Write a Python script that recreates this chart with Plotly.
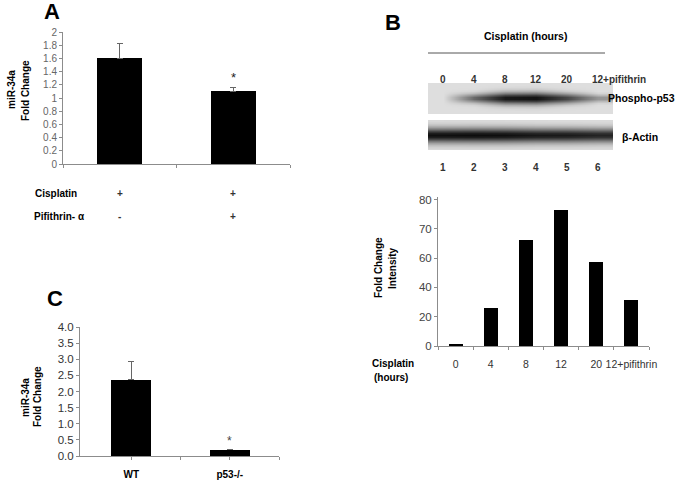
import math
import plotly.graph_objects as go

W, H = 685, 489

# ---------------- data ----------------
# Panel A
a_categories = ["Cisplatin", "Cisplatin + Pifithrin-α"]
a_values = [1.60, 1.10]
a_errors = [0.22, 0.06]
a_cisplatin = ["+", "+"]
a_pifithrin = ["-", "+"]
a_yticks = [0, 0.2, 0.4, 0.6, 0.8, 1, 1.2, 1.4, 1.6, 1.8, 2]

# Panel C
c_categories = ["WT", "p53-/-"]
c_values = [2.36, 0.20]
c_errors = [0.56, 0.0]
c_yticks = [0, 0.5, 1, 1.5, 2, 2.5, 3, 3.5, 4]
c_yticktext = ["0.0", "0.5", "1.0", "1.5", "2.0", "2.5", "3.0", "3.5", "4.0"]

# Panel B (blot densitometry)
b_categories = ["0", "4", "8", "12", "20", "12+pifithrin"]
b_values = [1.3, 26, 72.8, 93.3, 57.6, 31.3]           # on the drawn axis grid
b_yticks = [0, 20, 40, 60, 80, 100]
b_yticktext = ["0", "20", "40", "60", "70", "80"]       # labels as printed

# Panel B (western blot lanes)
lanes = [1, 2, 3, 4, 5, 6]
lane_labels = ["0", "4", "8", "12", "20", "12+pifithrin"]
phospho_intensity = [0.0, 0.6, 0.95, 0.98, 0.75, 0.38]
actin_intensity = [0.97, 0.98, 0.97, 0.93, 0.92, 0.88]


def dx(a, b):
    return [a / W, b / W]


def dy(top, bottom):
    return [1 - bottom / H, 1 - top / H]


def px(x):
    return x / W


def py(y):
    return 1 - y / H


FONT = "Liberation Sans, Arial, sans-serif"
AX = "#8c8c8c"

fig = go.Figure()

# Panel A bars
fig.add_trace(go.Bar(
    x=a_categories, y=a_values, width=0.4,
    marker=dict(color="black", line=dict(width=0)),
    error_y=dict(type="data", array=a_errors, arrayminus=[0] * len(a_errors),
                 symmetric=False, color="#666", thickness=1, width=3),
    xaxis="x", yaxis="y", showlegend=False))

# Panel C bars
fig.add_trace(go.Bar(
    x=[0, 1], y=c_values, width=0.41,
    marker=dict(color="black", line=dict(width=0)),
    error_y=dict(type="data", array=c_errors, arrayminus=[0] * len(c_errors),
                 symmetric=False, color="#666", thickness=1, width=3),
    xaxis="x2", yaxis="y2", showlegend=False))

# Panel B bars
fig.add_trace(go.Bar(
    x=b_categories, y=b_values, width=0.4,
    marker=dict(color="black", line=dict(width=0)),
    xaxis="x3", yaxis="y3", showlegend=False))


# Western blot strips rendered as smoothed heatmaps (band profile is only a drawing style)
def blot_rows(center, lo, hi, intensities, base_sigma, extra_sigma):
    ys = [lo + k for k in range(0, hi - lo + 1, 2)]
    z = []
    for y in ys:
        row = []
        for i in intensities:
            s = base_sigma + extra_sigma * i
            row.append(i * math.exp(-((y - center) / s) ** 2))
        z.append(row)
    return ys, z


blot_scale = [[0, "rgb(222,222,222)"], [0.5, "rgb(120,120,120)"], [1, "rgb(8,8,8)"]]
ys, z = blot_rows(52, 37, 67, phospho_intensity, 2.0, 4.0)
fig.add_trace(go.Heatmap(x=lanes, y=ys, z=z, zmin=0, zmax=1, zsmooth="best",
                         colorscale=blot_scale, showscale=False,
                         xaxis="x4", yaxis="y4", hoverinfo="skip"))
ys, z = blot_rows(15, 1, 29, actin_intensity, 4.0, 3.5)
fig.add_trace(go.Heatmap(x=lanes, y=ys, z=z, zmin=0, zmax=1, zsmooth="best",
                         colorscale=blot_scale, showscale=False,
                         xaxis="x4", yaxis="y4", hoverinfo="skip"))

annotations = []


def ann(x, y, text, size=10, bold=True, color="black", xanchor="center", angle=0, xref="paper", yref="paper"):
    t = f"<b>{text}</b>" if bold else text
    annotations.append(dict(x=x, y=y, xref=xref, yref=yref, text=t, showarrow=False,
                            font=dict(family=FONT, size=size, color=color),
                            xanchor=xanchor, yanchor="middle", textangle=angle))


# Panel letters
ann(px(52), py(11), "A", size=22)
ann(px(393), py(22), "B", size=22)
ann(px(55), py(298), "C", size=22)

# Panel A labels
ann(px(11), py(90), "miR-34a", size=10, angle=-90)
ann(px(25), py(90), "Fold Change", size=10, angle=-90)
ann(px(33), py(193), "Cisplatin", size=10, xanchor="left")
ann(px(32), py(216), "Pifithrin- α", size=10, xanchor="left")
for cat, cp, pf in zip(a_categories, a_cisplatin, a_pifithrin):
    annotations.append(dict(x=cat, y=py(193), xref="x", yref="paper", text=f"<b>{cp}</b>",
                            showarrow=False, font=dict(family=FONT, size=10)))
    annotations.append(dict(x=cat, y=py(216), xref="x", yref="paper", text=f"<b>{pf}</b>",
                            showarrow=False, font=dict(family=FONT, size=10)))
annotations.append(dict(x=a_categories[1], y=a_values[1] + a_errors[1], xref="x", yref="y",
                        text="*", showarrow=False, yshift=10,
                        font=dict(family=FONT, size=13, color="#222")))

# Panel C labels
ann(px(25), py(397), "miR-34a", size=10, angle=-90)
ann(px(37), py(397), "Fold Change", size=10, angle=-90)
annotations.append(dict(x=1, y=c_values[1], xref="x2", yref="y2", text="*", showarrow=False,
                        yshift=9, font=dict(family=FONT, size=12, color="#444")))

# Panel B densitometry labels
ann(px(378), py(268), "Fold Change", size=10, angle=-90)
ann(px(392), py(268), "Intensity", size=10, angle=-90)
ann(px(370), py(363), "Cisplatin", size=10, xanchor="left")
ann(px(372), py(377), "(hours)", size=10, xanchor="left")

# Blot labels
ann(px(525), py(36), "Cisplatin (hours)", size=10.5)
for lane, lab in zip(lanes, lane_labels):
    if lab.startswith("12+"):
        annotations.append(dict(x=lane - 0.25, y=py(72), xref="x4", yref="paper",
                                text=f"<b>{lab}</b>", showarrow=False, xanchor="left",
                                font=dict(family=FONT, size=10)))
    else:
        annotations.append(dict(x=lane, y=py(72), xref="x4", yref="paper",
                                text=f"<b>{lab}</b>", showarrow=False,
                                font=dict(family=FONT, size=10)))
    annotations.append(dict(x=lane, y=py(160), xref="x4", yref="paper",
                            text=f"<b>{lane}</b>", showarrow=False,
                            font=dict(family=FONT, size=10)))
ann(px(606), py(98), "Phospho-p53", size=10.5, xanchor="left")
ann(px(620), py(137), "β-Actin", size=10.5, xanchor="left")

shapes = [dict(type="line", xref="paper", yref="paper", x0=px(428), x1=px(605),
               y0=py(53), y1=py(53), line=dict(color="#555", width=1))]

common_y = dict(showgrid=False, zeroline=False, showline=True, linecolor=AX, linewidth=1,
                ticks="outside", ticklen=3, tickcolor=AX, automargin=False)

fig.update_layout(
    width=W, height=H, margin=dict(l=0, r=0, t=0, b=0, pad=0), autosize=False,
    paper_bgcolor="white", plot_bgcolor="white",
    barmode="overlay", bargap=0,
    font=dict(family=FONT, color="#333"),
    annotations=annotations, shapes=shapes,
    xaxis=dict(domain=dx(63, 290), type="category", showgrid=False, zeroline=False,
               showline=True, linecolor=AX, ticks="outside", ticklen=3, tickcolor=AX,
               tickson="boundaries", showticklabels=False, anchor="y", automargin=False),
    yaxis=dict(domain=dy(32, 164), range=[0, 2], tickvals=a_yticks,
               tickfont=dict(size=10, color="#666"), anchor="x", **common_y),
    xaxis2=dict(domain=dx(80, 279), range=[-0.52, 1.5], showgrid=False, zeroline=False,
                showline=True, linecolor=AX, ticks="outside", ticklen=3, tickcolor=AX,
                tickvals=[0, 0.5, 1, 1.5], ticktext=["<b>WT</b>", "", "<b>p53-/-</b>", ""],
                tickfont=dict(size=10, color="black"), ticklabelstandoff=6, tickangle=0,
                anchor="y2", automargin=False),
    yaxis2=dict(domain=dy(327, 456), range=[0, 4], tickvals=c_yticks, ticktext=c_yticktext,
                tickfont=dict(size=11.5, color="#333"), anchor="x2", **common_y),
    xaxis3=dict(domain=dx(438, 649), type="category", showgrid=False, zeroline=False,
                showline=True, linecolor=AX, ticks="outside", ticklen=3, tickcolor=AX,
                tickson="boundaries", tickfont=dict(size=10.5, color="#333"), tickangle=0,
                ticklabelstandoff=8, anchor="y3", automargin=False),
    yaxis3=dict(domain=dy(196.7, 346), range=[0, 102], tickvals=b_yticks, ticktext=b_yticktext,
                tickfont=dict(size=11.5, color="#444"), anchor="x3", **common_y),
    xaxis4=dict(domain=dx(428, 613), range=[0.5, 6.5], visible=False, anchor="y4", automargin=False),
    yaxis4=dict(domain=dy(83, 150), range=[0, 67], visible=False, anchor="x4", automargin=False),
)

fig.write_html("out.html", config={"displayModeBar": False},
               post_script="document.body.style.margin='0';document.body.style.overflow='hidden';")
